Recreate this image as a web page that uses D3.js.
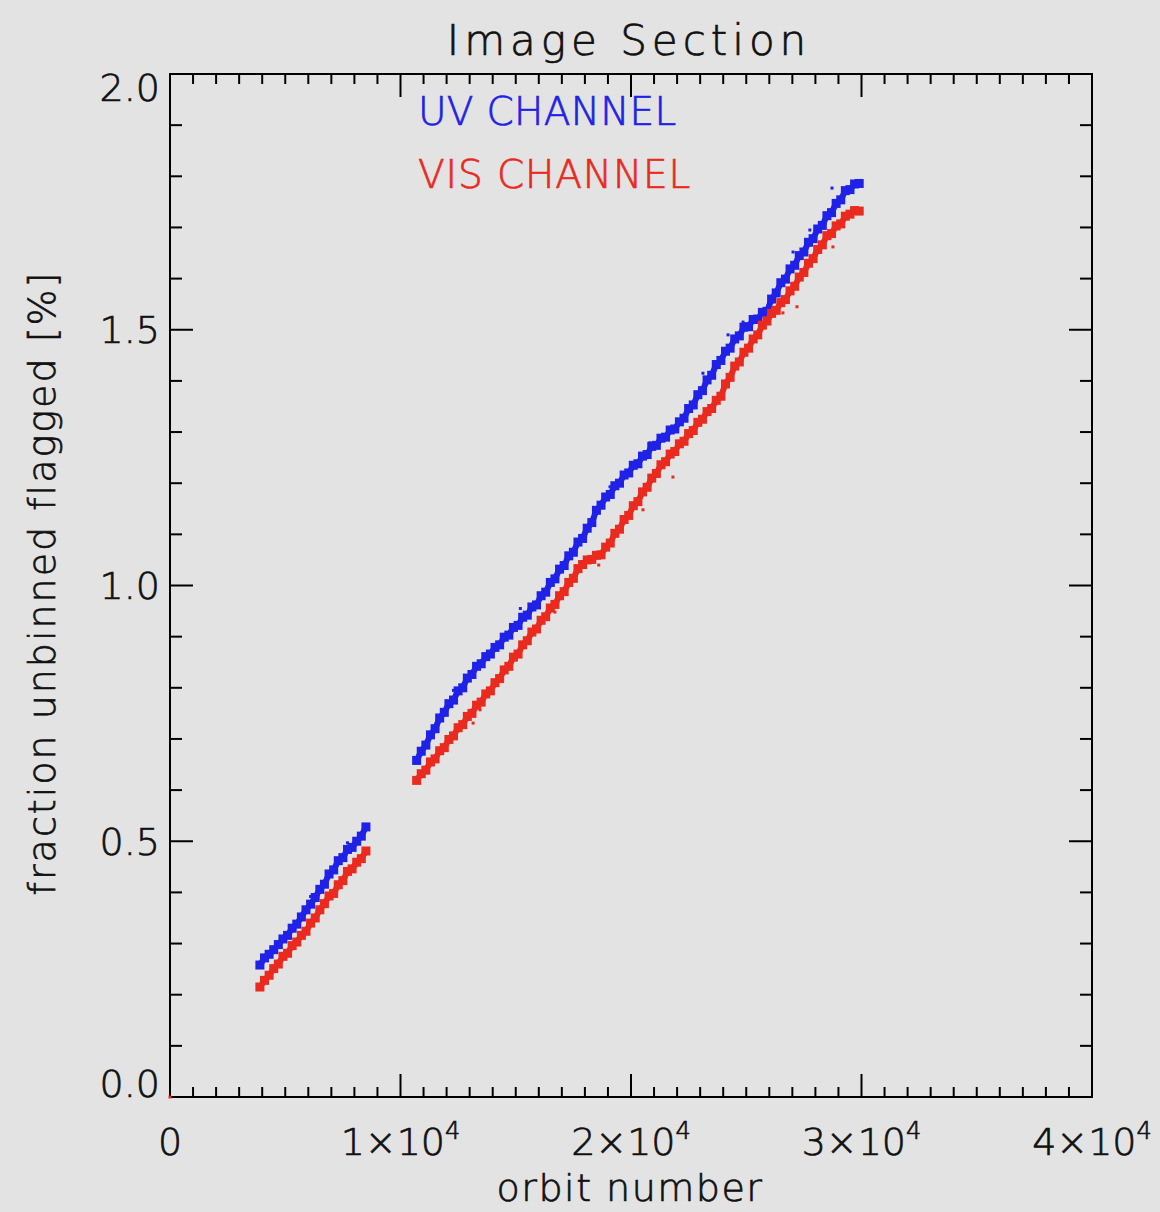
<!DOCTYPE html>
<html><head><meta charset="utf-8">
<script src="https://cdn.jsdelivr.net/npm/d3@7"></script>
<style>
html,body{margin:0;padding:0;background:#e3e3e3;}
svg{display:block;}
text{font-family:"DejaVu Sans",sans-serif;font-weight:300;stroke-width:0.7px;}
</style></head>
<body>
<script>
// ---- data ----
const orbits1 = [3900,4100,4300,4500,4700,4900,5100,5300,5500,5700,5900,6100,6300,6500,6700,6900,7100,7300,7500,7700,7900,8100,8300,8500];
const uv1  = [0.258,0.272,0.279,0.288,0.298,0.309,0.316,0.330,0.338,0.352,0.366,0.377,0.390,0.406,0.416,0.436,0.444,0.462,0.468,0.484,0.488,0.500,0.510,0.528];
const vis1 = [0.215,0.228,0.238,0.251,0.260,0.275,0.281,0.296,0.303,0.316,0.324,0.340,0.350,0.366,0.378,0.393,0.398,0.415,0.423,0.441,0.446,0.459,0.466,0.481];

const orbits2 = [10700,10900,11100,11300,11500,11700,11900,12100,12300,12500,12700,12900,13100,13300,13500,13700,13900,14100,14300,14500,14700,14900,15100,15300,15500,15700,15900,16100,16300,16500,16700,16900,17100,17300,17500,17700,17900,18100,18300,18500,18700,18900,19100,19300,19500,19700,19900,20100,20300,20500,20700,20900,21100,21300,21500,21700,21900,22100,22300,22500,22700,22900,23100,23300,23500,23700,23900,24100,24300,24500,24700,24900,25100,25300,25500,25700,25900,26100,26300,26500,26700,26900,27100,27300,27500,27700,27900,28100,28300,28500,28700,28900,29100,29300,29500,29700,29900];
const uv2 = [0.658,0.676,0.688,0.708,0.720,0.741,0.752,0.769,0.776,0.794,0.800,0.819,0.826,0.842,0.847,0.861,0.866,0.879,0.884,0.899,0.903,0.918,0.922,0.938,0.942,0.958,0.962,0.980,0.987,1.006,1.013,1.032,1.039,1.058,1.065,1.085,1.092,1.112,1.123,1.147,1.157,1.173,1.178,1.195,1.200,1.216,1.220,1.235,1.238,1.253,1.256,1.272,1.274,1.288,1.290,1.304,1.306,1.320,1.327,1.346,1.353,1.373,1.381,1.402,1.411,1.432,1.440,1.458,1.464,1.482,1.488,1.505,1.506,1.520,1.521,1.534,1.536,1.560,1.572,1.592,1.599,1.619,1.626,1.645,1.652,1.671,1.678,1.697,1.704,1.723,1.729,1.747,1.754,1.772,1.774,1.785,1.786];
const vis2 = [0.619,0.632,0.639,0.655,0.661,0.677,0.683,0.699,0.706,0.722,0.728,0.744,0.750,0.766,0.772,0.788,0.794,0.810,0.818,0.835,0.842,0.860,0.866,0.884,0.892,0.909,0.915,0.932,0.939,0.956,0.963,0.980,0.988,1.006,1.014,1.033,1.041,1.050,1.051,1.059,1.060,1.075,1.083,1.102,1.110,1.129,1.137,1.156,1.164,1.183,1.192,1.210,1.219,1.236,1.242,1.257,1.262,1.277,1.282,1.297,1.303,1.319,1.325,1.340,1.346,1.362,1.370,1.394,1.407,1.429,1.437,1.456,1.464,1.482,1.490,1.509,1.517,1.532,1.538,1.553,1.559,1.576,1.585,1.603,1.612,1.630,1.639,1.657,1.666,1.684,1.688,1.703,1.707,1.722,1.726,1.733,1.732];

// scattered single dots
const uvStrayOrbit  = [28720,27760,27030,24860,24210,23120,20820,19090,15200,12300,6100,7700];
const uvStrayValue  = [1.777,1.695,1.652,1.515,1.490,1.415,1.279,1.193,0.955,0.795,0.392,0.497];
const visStrayOrbit = [28760,27200,26590,21820,20520,13450,13150,18600,16700,0];
const visStrayValue = [1.662,1.545,1.533,1.212,1.148,0.757,0.731,1.040,0.948,0.0];

const xMajor = [0,10000,20000,30000,40000];
const xMajorLabels = [["0",""],["1×10","4"],["2×10","4"],["3×10","4"],["4×10","4"]];
const yMajor = [0,0.5,1.0,1.5,2.0];
const yMajorLabels = ["0.0","0.5","1.0","1.5","2.0"];
const legendLabels = ["UV CHANNEL","VIS CHANNEL"];
const title = "Image Section";
const xTitle = "orbit number";
const yTitle = "fraction unbinned flagged [%]";

// ---- drawing ----
const W = 1160, H = 1212;
const L = 170, R = 1092, T = 74, B = 1097;
const UV = "#1f22e6", VIS = "#ea2a1e", INK = "#111";

const svg = d3.select("body").append("svg").attr("width", W).attr("height", H);
svg.append("rect").attr("width", W).attr("height", H).attr("fill", "#e3e3e3");

const x = d3.scaleLinear().domain([0, 40000]).range([L, R]);
const y = d3.scaleLinear().domain([0, 2]).range([B, T]);

const xMinor = x.ticks(40).filter(v => !xMajor.includes(v));
const yMinor = y.ticks(20).filter(v => !yMajor.some(m => Math.abs(m - v) < 1e-9));

const ticks = svg.append("g").attr("stroke", "#000").attr("stroke-width", 2);
function xTicks(vals, len) {
  ticks.append("g").selectAll("line").data(vals).join("line")
    .attr("x1", d => x(d)).attr("x2", d => x(d)).attr("y1", B).attr("y2", B - len);
  ticks.append("g").selectAll("line").data(vals).join("line")
    .attr("x1", d => x(d)).attr("x2", d => x(d)).attr("y1", T).attr("y2", T + len);
}
function yTicks(vals, len) {
  ticks.append("g").selectAll("line").data(vals).join("line")
    .attr("y1", d => y(d)).attr("y2", d => y(d)).attr("x1", L).attr("x2", L + len);
  ticks.append("g").selectAll("line").data(vals).join("line")
    .attr("y1", d => y(d)).attr("y2", d => y(d)).attr("x1", R).attr("x2", R - len);
}
xTicks(xMajor, 23); xTicks(xMinor, 10);
yTicks(yMajor, 23); yTicks(yMinor, 12);

svg.append("rect").attr("x", L).attr("y", T).attr("width", R - L).attr("height", B - T)
  .attr("fill", "none").attr("stroke", "#000").attr("stroke-width", 2);

function ink(sel, c) { return sel.attr("fill", c).attr("stroke", c); }

// y tick labels
ink(svg.append("g").selectAll("text").data(yMajor).join("text")
  .attr("x", 160)
  .attr("y", d => Math.min(Math.max(y(d), T + 13), B - 14))
  .attr("dy", "0.36em")
  .attr("text-anchor", "end")
  .attr("font-size", 38)
  .text((d, i) => yMajorLabels[i]), INK);

// x tick labels
const xl = ink(svg.append("g").selectAll("text").data(xMajor).join("text")
  .attr("x", d => x(d)).attr("y", 1155)
  .attr("text-anchor", "middle").attr("font-size", 38), INK);
xl.append("tspan").text((d, i) => xMajorLabels[i][0]);
xl.append("tspan").attr("font-size", 24).attr("dy", -16).text((d, i) => xMajorLabels[i][1]);

// titles
ink(svg.append("text").attr("x", 629).attr("y", 55).attr("text-anchor", "middle")
  .attr("font-size", 42).attr("letter-spacing", 5).text(title), INK);
ink(svg.append("text").attr("x", 630).attr("y", 1201).attr("text-anchor", "middle")
  .attr("font-size", 38).attr("letter-spacing", 1.5).text(xTitle), INK);
ink(svg.append("text").attr("transform", "translate(55,583) rotate(-90)").attr("text-anchor", "middle")
  .attr("font-size", 38).attr("letter-spacing", 2).text(yTitle), INK);

// legend
ink(svg.append("text").attr("x", 418).attr("y", 125).attr("font-size", 39).attr("letter-spacing", 0.3)
  .text(legendLabels[0]), UV);
ink(svg.append("text").attr("x", 418).attr("y", 188).attr("font-size", 39).attr("letter-spacing", 0.9)
  .text(legendLabels[1]), VIS);

// data
function pts(orb, val) { return orb.map((o, i) => [o, val[i]]); }
const line = d3.line().x(d => x(d[0])).y(d => y(d[1]));
function drawBand(data, color) {
  svg.append("path").datum(data).attr("d", line).attr("fill", "none")
    .attr("stroke", color).attr("stroke-width", 6).attr("stroke-linejoin", "bevel");
  svg.append("g").selectAll("rect").data(data).join("rect")
    .attr("x", d => x(d[0]) - 4.5).attr("y", d => y(d[1]) - 4.5)
    .attr("width", 9).attr("height", 9).attr("fill", color);
}
function drawDots(data, color) {
  svg.append("g").selectAll("rect").data(data).join("rect")
    .attr("x", d => x(d[0]) - 1.5).attr("y", d => y(d[1]) - 1.5)
    .attr("width", 3).attr("height", 3).attr("fill", color);
}
drawBand(pts(orbits1, uv1), UV);
drawBand(pts(orbits2, uv2), UV);
drawDots(pts(uvStrayOrbit, uvStrayValue), UV);
drawBand(pts(orbits1, vis1), VIS);
drawBand(pts(orbits2, vis2), VIS);
drawDots(pts(visStrayOrbit, visStrayValue), VIS);
</script>
</body></html>
